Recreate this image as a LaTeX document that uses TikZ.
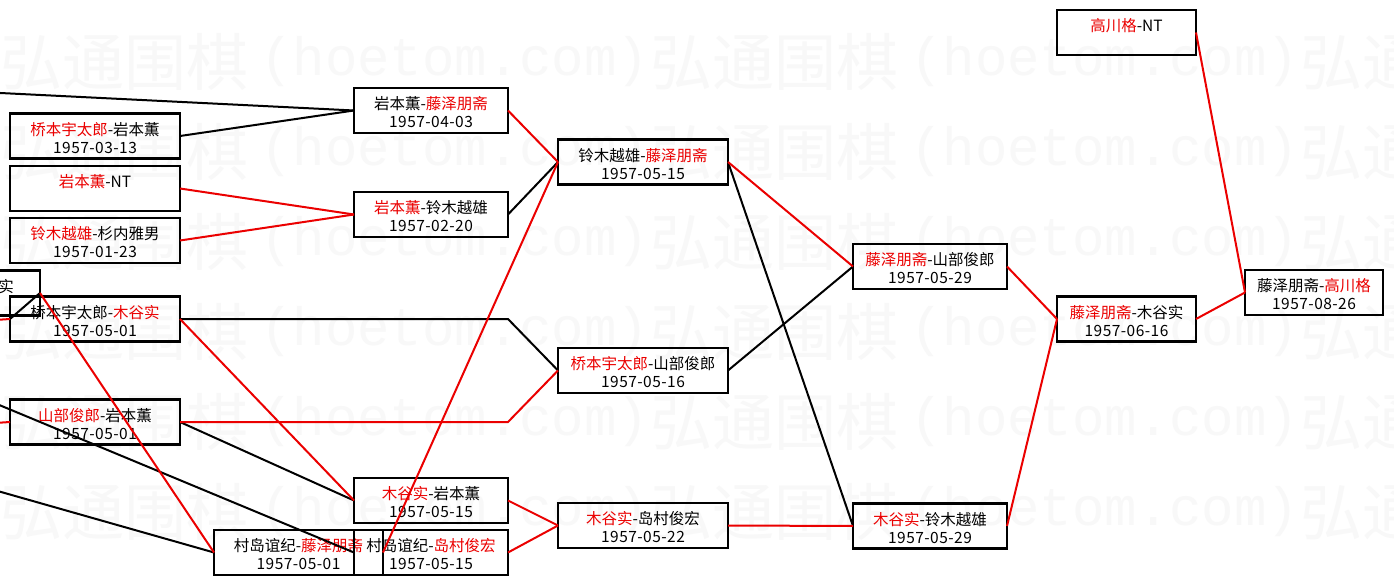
\documentclass[tikz,border=0pt]{standalone}
\usepackage{fontspec}
\setmainfont{Noto Sans CJK SC}
\newfontfamily\datefont[LetterSpace=3]{Noto Sans CJK SC}
\newfontfamily\wmmono{Liberation Mono}
\usetikzlibrary{calc}
\definecolor{rd}{RGB}{235,0,0}
\definecolor{wmgray}{gray}{0.972}
\newcommand\rn[1]{\textcolor{rd}{#1}}
\tikzset{
  box/.style={draw=black, line width=2.2pt, rectangle, inner sep=0pt, outer sep=0pt, minimum height=45pt},
  nm/.style={inner sep=0pt, font=\fontsize{15.5}{16}\selectfont},
  dt/.style={inner sep=0pt, font=\datefont\fontsize{15.5}{16}\selectfont},
  blk/.style={draw=black, line width=2pt},
  redl/.style={draw=rd, line width=2pt},
  wmcjk/.style={inner sep=0pt, anchor=west, text=wmgray, font=\fontsize{62}{62}\selectfont},
  wmlat/.style={inner sep=0pt, anchor=west, text=wmgray, font=\wmmono\fontsize{54}{54}\selectfont}
}
% name, x, y, width, first line, second line
\newcommand\gamebox[6]{%
  \node[box, minimum width=#4pt] (#1) at (#2,#3) {};
  \node[nm] (#1-n) at ([yshift=-16pt]#1.north) {#5};
  \node[dt] (#1-d) at ([yshift=-34pt]#1.north) {#6};
}
\begin{document}
\begin{tikzpicture}[x=1pt,y=-1pt]
\useasboundingbox (0,0) rectangle (1394,585);
\clip (0,0) rectangle (1394,585);
\fill[white] (0,0) rectangle (1394,585);
% watermark
\foreach \r/\yy in {1/62,2/152,3/242,4/332,5/422,6/512}{
  \foreach \c/\xx in {1/0,2/650,3/1300}{
    \node[wmcjk] (wa-\r-\c) at (\xx,\yy) {弘通围棋};
    \node[wmlat] (wb-\r-\c) at (\xx+260,\yy) {(hoetom.com)};
  }
}
% boxes
\gamebox{A1}{95}{136}{170}{\rn{桥本宇太郎}-岩本薫}{1957-03-13}
\gamebox{A2}{95}{188.5}{170}{\rn{岩本薫}-NT}{}
\gamebox{A3}{95}{240.5}{170}{\rn{铃木越雄}-杉内雅男}{1957-01-23}
\node[box, minimum width=170pt] (P) at (-45,293) {};
\node[nm] (P-n) at ([xshift=-34pt,yshift=-16pt]P.north east) {实};
\gamebox{A4}{95}{319}{170}{桥本宇太郎-\rn{木谷实}}{1957-05-01}
\gamebox{A5}{95}{422}{170}{\rn{山部俊郎}-岩本薫}{1957-05-01}
\gamebox{B1}{431}{110.5}{154}{岩本薫-\rn{藤泽朋斋}}{1957-04-03}
\gamebox{B2}{431}{214.5}{154}{\rn{岩本薫}-铃木越雄}{1957-02-20}
\gamebox{B3}{431}{500.5}{154}{\rn{木谷实}-岩本薫}{1957-05-15}
\gamebox{Cx}{298.5}{552.5}{169}{村岛谊纪-\rn{藤泽朋斋}}{1957-05-01}
\gamebox{B4}{431}{552.5}{154}{村岛谊纪-\rn{岛村俊宏}}{1957-05-15}
\gamebox{C1}{643}{162}{170}{铃木越雄-\rn{藤泽朋斋}}{1957-05-15}
\gamebox{C2}{643}{370.5}{170}{\rn{桥本宇太郎}-山部俊郎}{1957-05-16}
\gamebox{C3}{643}{525.5}{170}{\rn{木谷实}-岛村俊宏}{1957-05-22}
\gamebox{D1}{930}{266.5}{154}{\rn{藤泽朋斋}-山部俊郎}{1957-05-29}
\gamebox{D2}{930}{526}{154}{\rn{木谷实}-铃木越雄}{1957-05-29}
\gamebox{E1}{1126.5}{319}{139}{\rn{藤泽朋斋}-木谷实}{1957-06-16}
\gamebox{F1}{1314}{292.5}{138}{藤泽朋斋-\rn{高川格}}{1957-08-26}
\gamebox{G}{1126.5}{32.5}{139}{\rn{高川格}-NT}{}
% free ends off the left edge
\coordinate (o1) at (-20,92);
\coordinate (o2) at (-20,321);
\coordinate (o3) at (-20,424);
\coordinate (o4) at (-20,397);
\coordinate (o5) at (-20,486);
% black connectors
\draw[blk] (o1) -- (B1.west);
\draw[blk] (A1.east) -- (B1.west);
\draw[blk] (B2.east) -- (C1.west);
\draw[blk] (A4.east) -- (B1.east |- A4.east) -- (C2.west);
\draw[blk] (A5.east) -- (B3.west);
\draw[blk] (o4) -- (B4.west);
\draw[blk] (o5) -- (Cx.west);
\draw[blk] (C2.east) -- (D1.west);
\draw[blk] (C1.east) -- (D2.west);
\draw[blk] (P.east) -- (A4.west);
% red connectors
\draw[redl] (A2.east) -- (B2.west);
\draw[redl] (A3.east) -- (B2.west);
\draw[redl] (B1.east) -- (C1.west);
\draw[redl] (A4.east) -- (B3.west);
\draw[redl] (A5.east) -- (B1.east |- A5.east) -- (C2.west);
\draw[redl] (P.east) -- (Cx.west);
\draw[redl] (o2) -- (A4.west);
\draw[redl] (o3) -- (A5.west);
\draw[redl] (Cx.east) -- (C1.west);
\draw[redl] (B3.east) -- (C3.west);
\draw[redl] (B4.east) -- (C3.west);
\draw[redl] (C3.east) -- (D2.west);
\draw[redl] (C1.east) -- (D1.west);
\draw[redl] (D1.east) -- (E1.west);
\draw[redl] (D2.east) -- (E1.west);
\draw[redl] (E1.east) -- (F1.west);
\draw[redl] (G.east) -- (F1.west);
\end{tikzpicture}
\end{document}
